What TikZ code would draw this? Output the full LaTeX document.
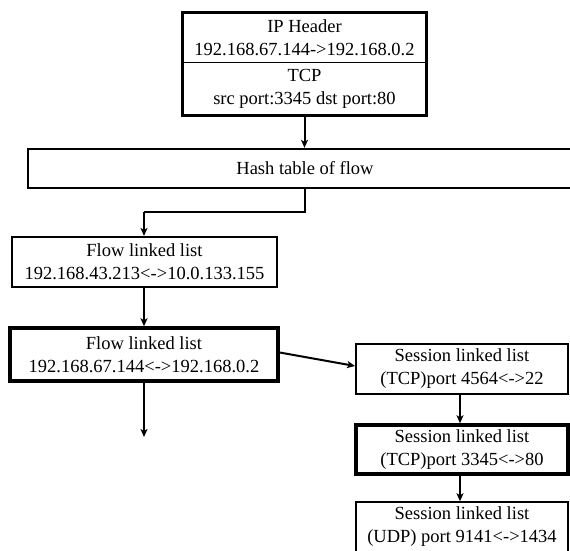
\documentclass[tikz,border=0pt]{standalone}
\usepackage{fontspec}
\setmainfont{Liberation Serif}
\usetikzlibrary{arrows.meta}
\begin{document}
\begin{tikzpicture}[x=1pt,y=-1pt,
  txt/.style={align=center,inner sep=0pt,font=\fontsize{18.5}{23}\selectfont},
  box/.style={txt,draw,line width=#1},
  box/.default=2pt,
  arr/.style={line width=2pt,-{Stealth[length=8pt,width=7pt,inset=2pt]}},
  ln/.style={line width=2pt}]
\useasboundingbox (0,0) rectangle (570,550);
\fill[white] (0,0) rectangle (570,550);
% top packet box
\node[box=1pt,minimum width=243pt,minimum height=49pt] (ip) at (304.5,37.5) {IP Header\\192.168.67.144->192.168.0.2};
\node[box=1pt,minimum width=243pt,minimum height=53pt] (tcp) at (304.5,88.5) {TCP\\src port:3345 dst port:80};
\draw[line width=2.2pt] (ip.north west) rectangle (tcp.south east);
% hash table
\node[box=2.4pt,minimum width=554pt,minimum height=39pt] (hash) at (305,168.5) {Hash table of flow};
% flows
\node[box=2.2pt,minimum width=265pt,minimum height=50pt] (flow1) at (144.5,262) {Flow linked list\\192.168.43.213<->10.0.133.155};
\node[box=3.5pt,minimum width=268pt,minimum height=53pt] (flow2) at (144,354.5) {Flow linked list\\192.168.67.144<->192.168.0.2};
% sessions
\node[box=1.8pt,minimum width=212pt,minimum height=50pt] (s1) at (462,369) {Session linked list\\(TCP)port 4564<->22};
\node[box=3.5pt,minimum width=212pt,minimum height=49pt] (s2) at (462,449.5) {Session linked list\\(TCP)port 3345<->80};
\node[box=1.5pt,minimum width=212pt,minimum height=50pt] (s3) at (462,527) {Session linked list\\(UDP) port 9141<->1434};
% connectors
\coordinate (bend) at (144,212);
\coordinate (flowend) at (144,437);
\draw[arr] (tcp.south) -- (tcp.south |- hash.north);
\draw[ln] (hash.south -| tcp.south) |- (bend);
\draw[arr] (bend) -- (bend |- flow1.north);
\draw[arr] (flow1.south -| bend) -- (bend |- flow2.north);
\draw[arr,line width=1.4pt] (flow2.south -| bend) -- (flowend);
\draw[arr] ([yshift=2pt]flow2.east) -- ([yshift=3pt]s1.west);
\draw[arr] (s1.south -| 460,0) -- (s2.north -| 460,0);
\draw[arr] (s2.south -| 460,0) -- (s3.north -| 460,0);
\end{tikzpicture}
\end{document}
